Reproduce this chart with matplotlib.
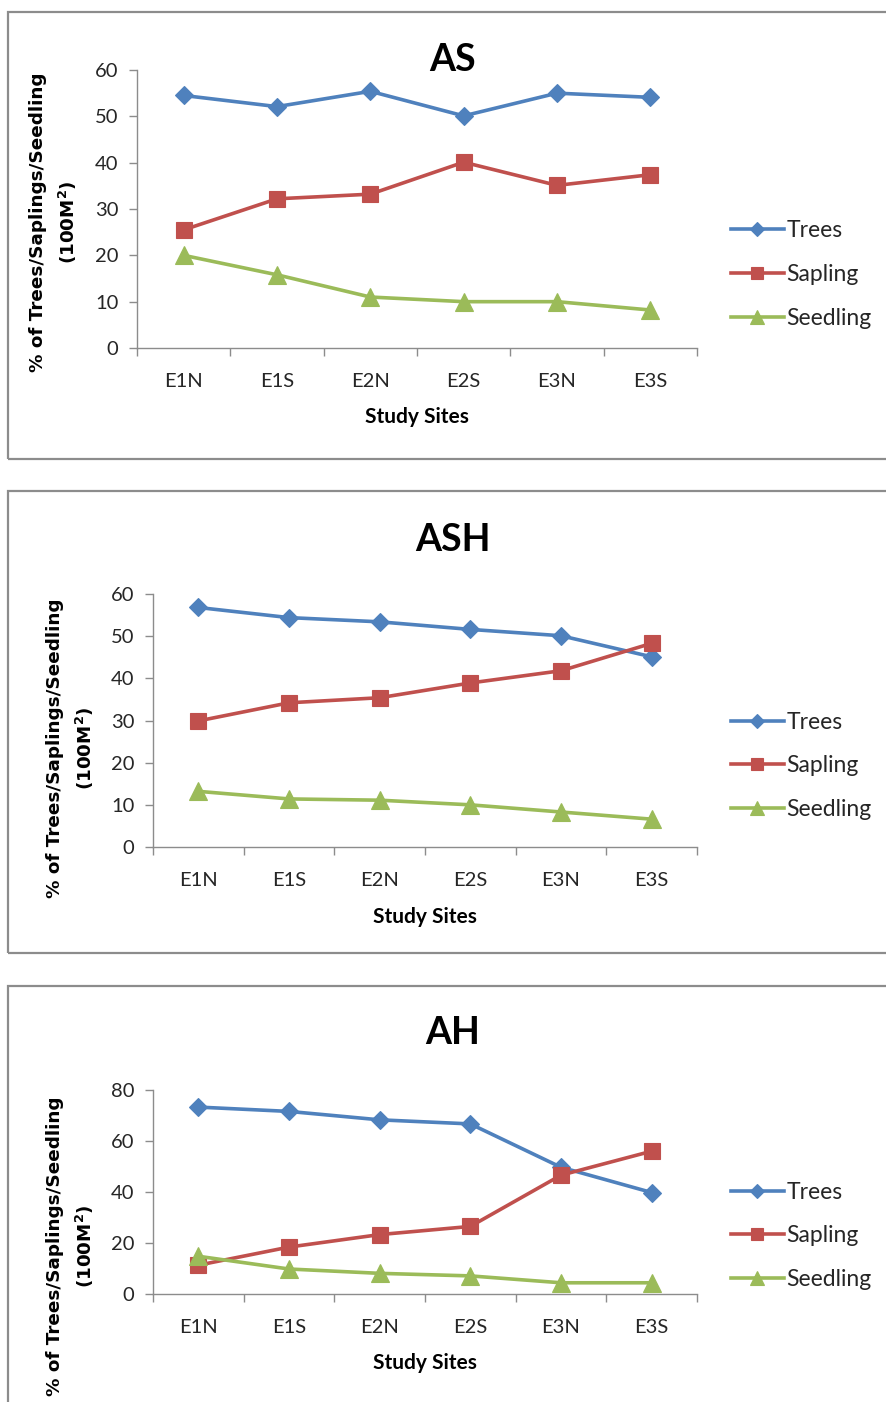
import matplotlib
matplotlib.use("Agg")
import matplotlib.pyplot as plt
from matplotlib.patches import Rectangle

# data
sites = ["E1N", "E1S", "E2N", "E2S", "E3N", "E3S"]
series_names = ["Trees", "Sapling", "Seedling"]

as_trees    = [54.5, 52.1, 55.4, 50.1, 55.0, 54.1]
as_sapling  = [25.5, 32.2, 33.2, 40.1, 35.1, 37.4]
as_seedling = [20.0, 15.8, 11.0, 10.0, 10.0, 8.2]

ash_trees    = [56.8, 54.4, 53.4, 51.6, 50.1, 45.1]
ash_sapling  = [29.9, 34.2, 35.4, 38.9, 41.8, 48.3]
ash_seedling = [13.2, 11.4, 11.1, 10.0, 8.3, 6.6]

ah_trees    = [73.3, 71.6, 68.3, 66.7, 49.7, 39.8]
ah_sapling  = [11.3, 18.4, 23.3, 26.5, 46.6, 56.0]
ah_seedling = [14.8, 9.8, 8.1, 7.1, 4.4, 4.4]

titles = ["AS", "ASH", "AH"]
y_max = [60, 60, 80]
y_step = [10, 10, 20]

colors = ["#4F81BD", "#C0504D", "#9BBB59"]
markers = ["D", "s", "^"]
msizes = [9, 12, 12.5]

W, H = 886, 1402
fig = plt.figure(figsize=(W / 100, H / 100), dpi=100)


def fx(px):
    return px / W


def fy(py):
    return 1 - py / H


# pixel layout of each panel: frame top/bottom, plot box, title, labels, legend
panels = [
    dict(frame=(12, 459), box=(137, 70, 697, 348), title_y=60, ylab_x=(38, 68),
         ylab_y=222, xlab_y=417, leg_y=274.5),
    dict(frame=(491, 953), box=(153, 594, 697, 847), title_y=540, ylab_x=(55, 85),
         ylab_y=748, xlab_y=917, leg_y=766),
    dict(frame=(986, 1420), box=(153, 1090, 697, 1294), title_y=1033, ylab_x=(55, 85),
         ylab_y=1246, xlab_y=1363, leg_y=1236),
]
all_data = [
    [as_trees, as_sapling, as_seedling],
    [ash_trees, ash_sapling, ash_seedling],
    [ah_trees, ah_sapling, ah_seedling],
]

for i, p in enumerate(panels):
    top, bot = p["frame"]
    fig.patches.append(Rectangle((fx(8), fy(bot)), fx(900) - fx(8), (bot - top) / H,
                                 transform=fig.transFigure, fill=False,
                                 edgecolor="#8c8c8c", linewidth=1.6))

    l, t, r, b = p["box"]
    ax = fig.add_axes([fx(l), fy(b), (r - l) / W, (b - t) / H])
    x = list(range(len(sites)))
    for vals, name, c, m, ms in zip(all_data[i], series_names, colors, markers, msizes):
        ax.plot(x, vals, color=c, linewidth=2.6, marker=m, markersize=ms,
                markeredgecolor=c, markeredgewidth=0.8, label=name, clip_on=False)

    ax.set_xlim(-0.5, len(sites) - 0.5)
    ax.set_ylim(0, y_max[i])
    ax.set_yticks(range(0, y_max[i] + 1, y_step[i]))
    ax.set_xticks(x)
    ax.set_xticklabels(sites)
    ax.set_xticks([v - 0.5 for v in range(len(sites) + 1)], minor=True)

    for s in ["top", "right"]:
        ax.spines[s].set_visible(False)
    for s in ["left", "bottom"]:
        ax.spines[s].set_color("#8c8c8c")
        ax.spines[s].set_linewidth(1.0)

    ax.tick_params(axis="x", which="major", length=0, pad=18,
                   labelsize=14.5, labelcolor="#262626")
    ax.tick_params(axis="x", which="minor", length=5.5, width=1.0, color="#8c8c8c",
                   direction="out")
    ax.tick_params(axis="y", length=5.5, width=1.0, color="#8c8c8c", pad=8,
                   labelsize=14.5, labelcolor="#262626")
    for lab in ax.get_xticklabels() + ax.get_yticklabels():
        lab.set_fontfamily("Lato")

    cx = (l + r) / 2
    fig.text(fx(453), fy(p["title_y"]), titles[i], ha="center", va="center",
             fontsize=27, fontweight="bold", family="Lato", color="black")
    fig.text(fx(cx), fy(p["xlab_y"]), "Study Sites", ha="center", va="center",
             fontsize=15, fontweight="bold", family="Lato", color="black")
    fig.text(fx(p["ylab_x"][0]), fy(p["ylab_y"]), "% of Trees/Saplings/Seedling",
             ha="center", va="center", rotation=90, fontsize=13.2, fontweight="bold",
             family="DejaVu Sans", color="black")
    fig.text(fx(p["ylab_x"][1]), fy(p["ylab_y"]), "(100M$^{\\mathbf{2}}$)",
             ha="center", va="center", rotation=90, fontsize=13.2, fontweight="bold",
             family="DejaVu Sans", color="black")

    leg = ax.legend(loc="center left", bbox_to_anchor=(fx(731), fy(p["leg_y"])),
                    bbox_transform=fig.transFigure, frameon=False, fontsize=16.5,
                    handlelength=2.3, handletextpad=0.12, labelspacing=1.0,
                    borderpad=0, borderaxespad=0, markerscale=0.75)
    for txt in leg.get_texts():
        txt.set_fontfamily("Lato")
        txt.set_color("#262626")

fig.savefig("out.png", dpi=100)
